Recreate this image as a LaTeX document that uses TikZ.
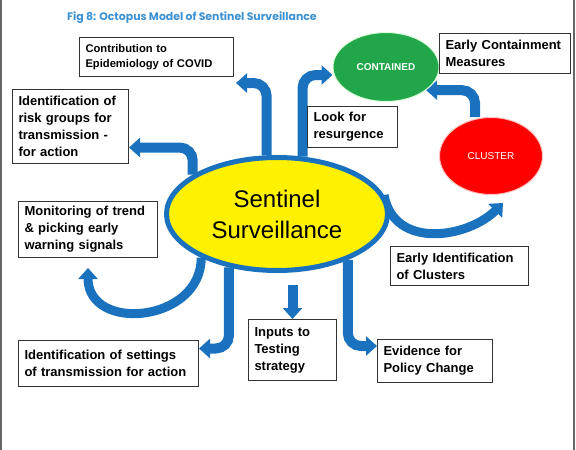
\documentclass[tikz,border=0pt]{standalone}
\usepackage{fontspec}
\setmainfont{Liberation Sans}
\newfontfamily\titlefont{Poppins}
\usetikzlibrary{shapes.geometric,arrows.meta,backgrounds}

\definecolor{arrowblue}{RGB}{26,114,190}
\definecolor{titleblue}{RGB}{60,145,210}
\definecolor{containgreen}{RGB}{33,166,74}

\tikzset{
  infobox/.style={draw=black!80, line width=1pt, anchor=north west, align=left,
    inner xsep=6pt, inner ysep=2pt, font=\bfseries\fontsize{13}{17}\selectfont},
  flowarrow/.style={line width=10pt, draw=arrowblue, rounded corners=13pt,
    -{Triangle[length=11pt,width=19pt]}},
  state/.style={ellipse, inner sep=0pt, line width=1pt, text=white}
}

\begin{document}
\begin{tikzpicture}[x=1pt,y=-1pt]
    \useasboundingbox (0,0) rectangle (576,450);
    \draw[black!60, line width=1.5pt] (1,0) -- (1,450);
    \draw[black!60, line width=1.5pt] (574,0) -- (574,450);

    \node[anchor=west, inner sep=0pt, text=titleblue,
      font=\titlefont\bfseries\fontsize{10.9}{12}\selectfont] (title) at (67,18)
      {Fig 8: Octopus Model of Sentinel Surveillance};

    % centre and the two states
    \node[ellipse, draw=arrowblue, line width=5pt, fill=yellow, inner sep=0pt,
      minimum width=221pt, minimum height=113pt, align=center,
      font=\fontsize{24}{31}\selectfont] (sent) at (277,214) {Sentinel\\Surveillance};
    \node[state, fill=containgreen, draw=green!15, minimum width=106pt, minimum height=69pt,
      font=\bfseries\fontsize{10}{12}\selectfont] (contained) at (386,67) {CONTAINED};
    \node[state, fill=red, draw=red!25, minimum width=103pt, minimum height=77pt,
      font=\fontsize{10}{12}\selectfont] (cluster) at (491,156) {CLUSTER};

    % boxes
    \node[infobox, text width=142pt, minimum height=39pt, font=\bfseries\fontsize{11.2}{15}\selectfont]
      (contrib) at (79,37) {Contribution to\\Epidemiology of COVID};
    \node[infobox, text width=119pt, minimum height=40pt] (measures) at (439,33) {Early Containment\\Measures};
    \node[infobox, text width=104pt, minimum height=74pt] (risk) at (12,89)
      {Identification of\\risk groups for\\transmission -\\for action};
    \node[infobox, text width=78pt, minimum height=41pt] (look) at (307,106) {Look for\\resurgence};
    \node[infobox, text width=127pt, minimum height=56pt] (monitor) at (18,201)
      {Monitoring of trend\\\& picking early\\warning signals};
    \node[infobox, text width=126pt, minimum height=39pt] (clusters) at (390,246)
      {Early Identification\\of Clusters};
    \node[infobox, text width=168pt, minimum height=46pt] (settings) at (18,340)
      {Identification of settings\\of transmission for action};
    \node[infobox, text width=76pt, minimum height=61pt] (inputs) at (248,319) {Inputs to\\Testing\\strategy};
    \node[infobox, text width=103pt, minimum height=43pt] (evidence) at (377,339) {Evidence for\\Policy Change};

    % arms
    \begin{scope}[on background layer]
      \draw[flowarrow] (sent.100) |- ([xshift=2pt,yshift=-6pt]contrib.south east);
      \draw[flowarrow] (sent.66) |- ([yshift=-8pt]contained.west);
      \draw[flowarrow] (sent.155) |- ([yshift=-21pt]risk.east);
      \draw[flowarrow, line width=9pt] (sent.210) .. controls +(0,65) and +(0,65) .. ([yshift=-10pt]monitor.south);
      \draw[flowarrow] (sent.228) |- ([yshift=15pt]settings.east);
      \draw[flowarrow] ([yshift=34pt]inputs.north) -- (inputs.north);
      \draw[flowarrow] (sent.327) |- ([yshift=15pt]evidence.west);
      \draw[flowarrow, line width=9pt] (sent.10) .. controls +(10,55) and +(-35,35) .. ([xshift=12pt,yshift=-8pt]cluster.south);
      \draw[flowarrow] ([xshift=-16pt]cluster.north) |- (contained.330);
    \end{scope}
\end{tikzpicture}
\end{document}
